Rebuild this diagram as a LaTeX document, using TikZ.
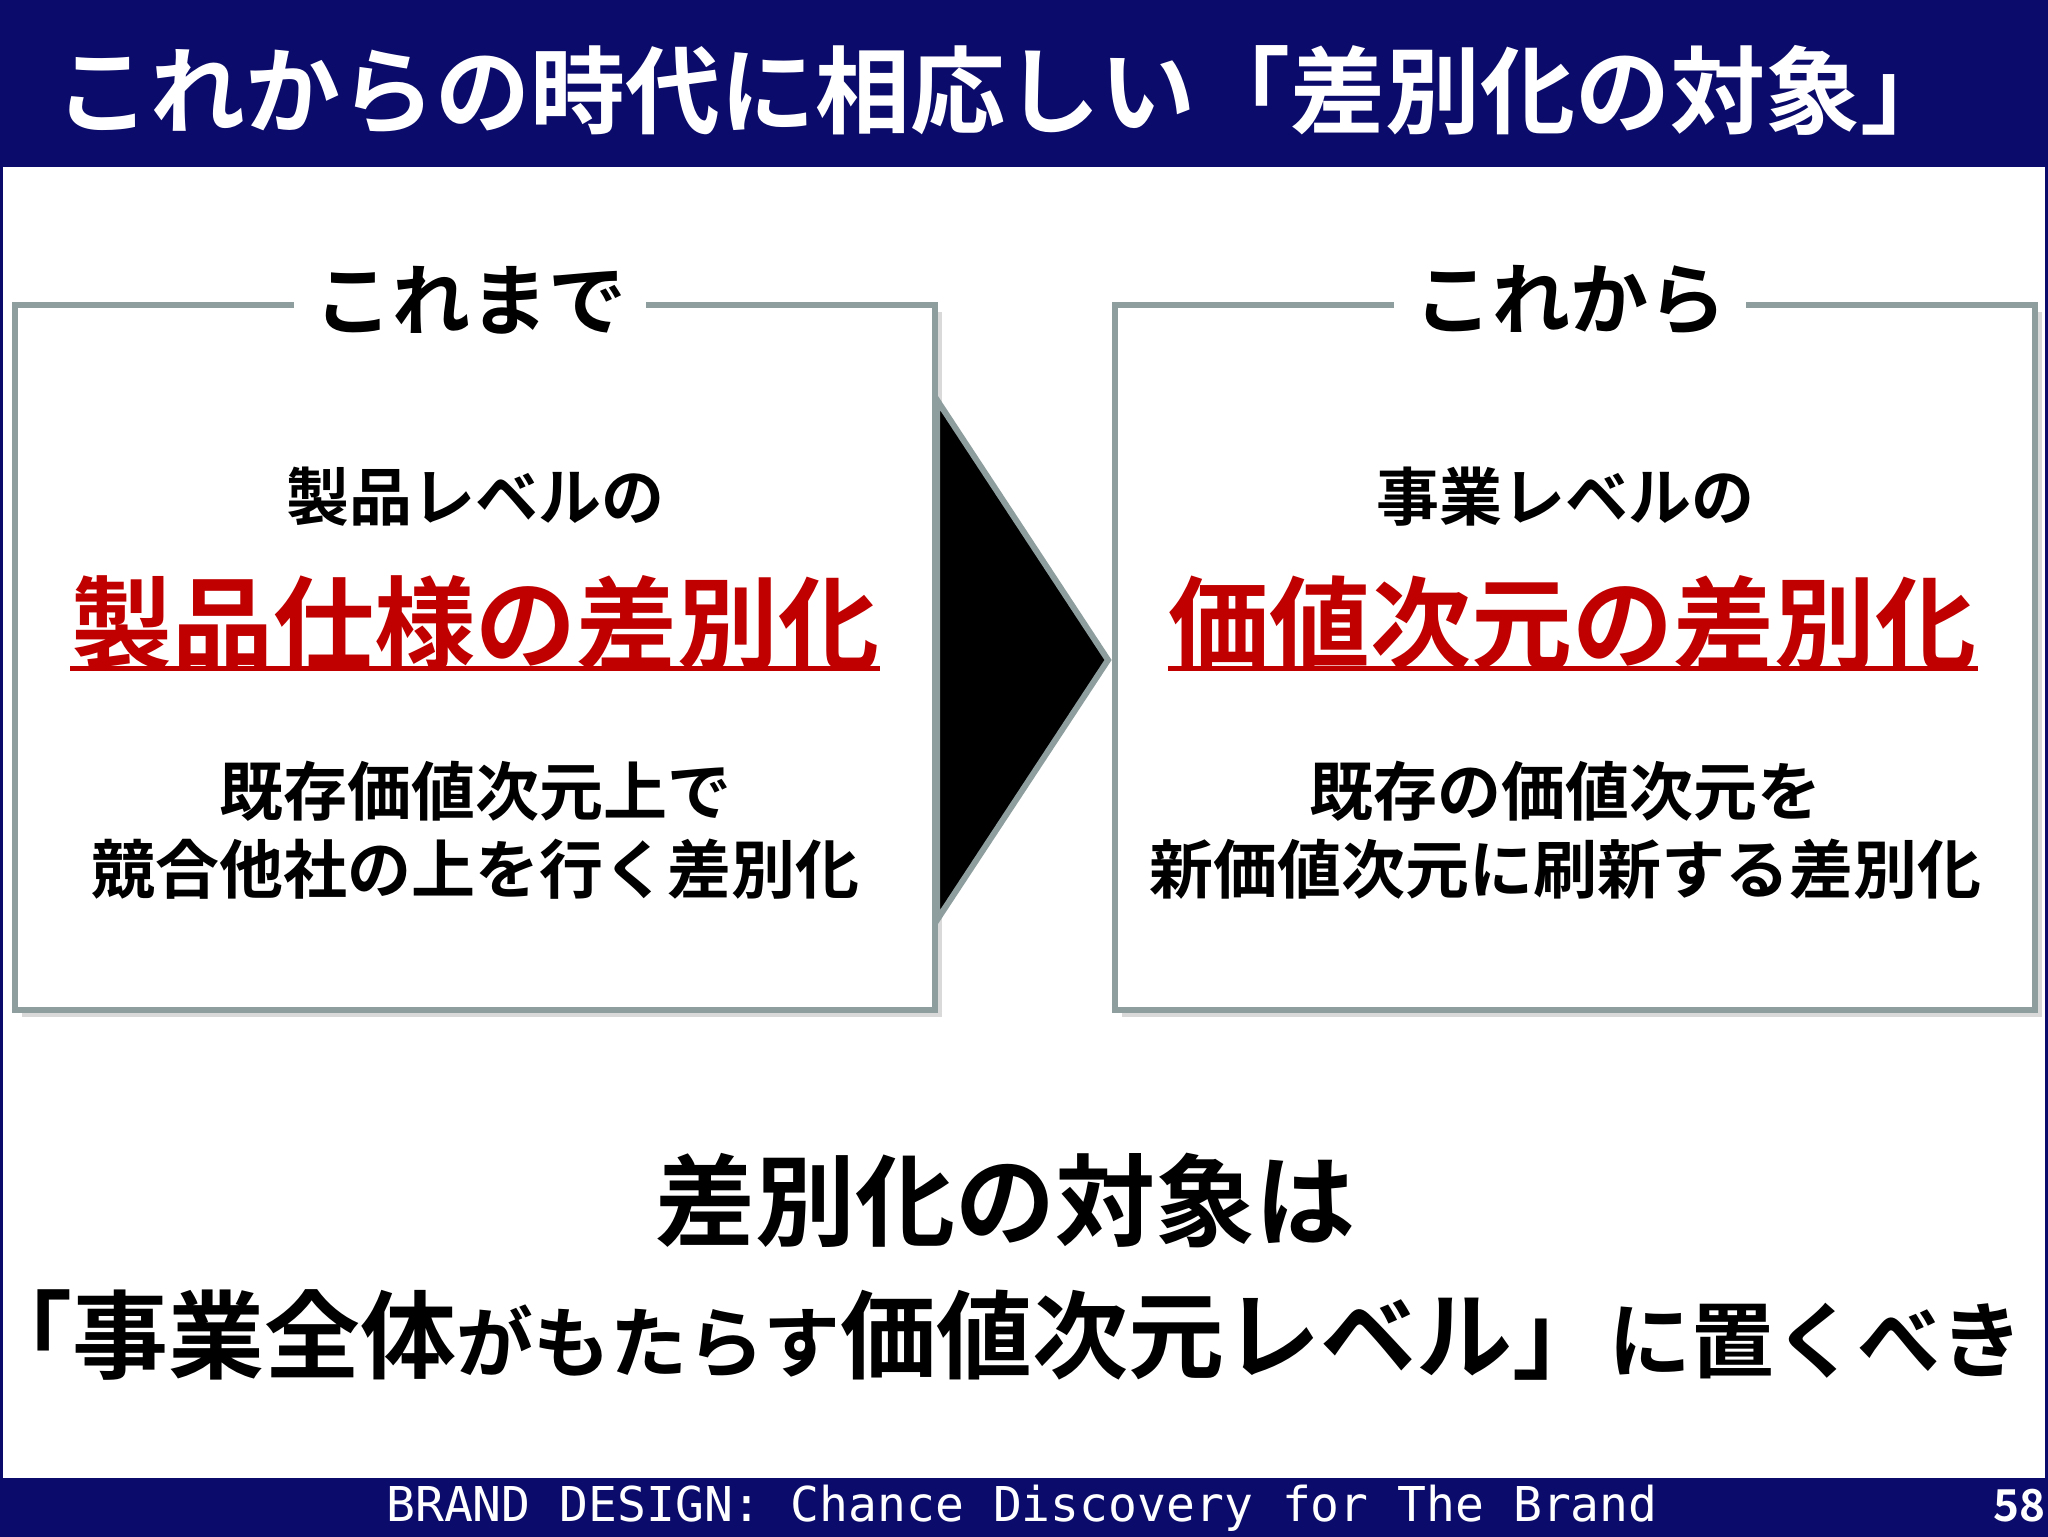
\documentclass[tikz,border=0pt]{standalone}
\usepackage{fontspec}
\setmainfont{Noto Sans CJK JP}[BoldFont={Noto Sans CJK JP Bold}]
\setmonofont{DejaVu Sans Mono}
\definecolor{navy}{HTML}{0B0B6B}
\definecolor{boxgray}{HTML}{8E9E9E}
\definecolor{redt}{HTML}{C00000}
\tikzset{
 lbl/.style={font=\bfseries\fontsize{31.5}{34}\selectfont, inner sep=0pt},
 big/.style={font=\bfseries\fontsize{50.5}{54}\selectfont, text=redt, inner sep=0pt},
 sub/.style={font=\bfseries\fontsize{32}{39}\selectfont, inner sep=0pt, align=center},
 panel/.style={draw=boxgray, line width=3pt, fill=white},
 ttl/.style={font=\bfseries\fontsize{39}{42}\selectfont, fill=white, inner xsep=10pt, inner ysep=2pt}
}
\begin{document}
\begin{tikzpicture}[x=0.5pt,y=-0.5pt]
\useasboundingbox (0,0) rectangle (2048,1536);
\fill[white] (0,0) rectangle (2048,1536);
\draw[navy,line width=2pt] (1,0) rectangle (2047,1536);
\fill[navy] (0,0) rectangle (2048,167);
\node[font=\bfseries\fontsize{47.5}{50}\selectfont, text=white, inner sep=0pt] (title) at (1005,90) {これからの時代に相応しい「差別化の対象」};
\fill[navy] (0,1478) rectangle (2048,1536);
\node[font=\ttfamily\fontsize{24}{26}\selectfont, text=white, inner sep=0pt] (foot) at (1022,1508) {BRAND DESIGN: Chance Discovery for The Brand};
\node[font=\bfseries\fontsize{22}{24}\selectfont, text=white, inner sep=0pt, anchor=east] (pg) at (2046,1506) {58};
% shadows
\fill[black!15] (22,312) rectangle (942,1017);
\fill[black!15] (1122,312) rectangle (2042,1017);
\draw[panel] (15,305) rectangle (935,1010);
\draw[panel] (1115,305) rectangle (2035,1010);
\node[ttl] (t1) at (470,300) {これまで};
\node[ttl] (t2) at (1570,300) {これから};
\draw[fill=black, draw=boxgray, line width=3pt] (937,400) -- (1108,660) -- (937,920) -- cycle;
% left
\node[lbl] (l1) at (475,497) {製品レベルの};
\node[big] (l2) at (475,623) {製品仕様の差別化};
\draw[redt, line width=2.5pt] (70,668) -- (880,668);
\node[sub] (l3) at (475,830) {既存価値次元上で\\競合他社の上を行く差別化};
% right
\node[lbl] (r1) at (1565,497) {事業レベルの};
\node[big] (r2) at (1572,623) {価値次元の差別化};
\draw[redt, line width=2.5pt] (1168,668) -- (1978,668);
\node[sub] (r3) at (1565,830) {既存の価値次元を\\新価値次元に刷新する差別化};
% bottom
\node[font=\bfseries\fontsize{50}{54}\selectfont, inner sep=0pt] (b1) at (1005,1200) {差別化の対象は};
\node[inner sep=0pt] (b2) at (1000,1335) {\bfseries\fontsize{48}{52}\selectfont 「事業全体\fontsize{38.5}{42}\selectfont がもたらす\fontsize{48}{52}\selectfont 価値次元レベル」\fontsize{41.5}{44}\selectfont に置くべき};
\end{tikzpicture}
\end{document}
